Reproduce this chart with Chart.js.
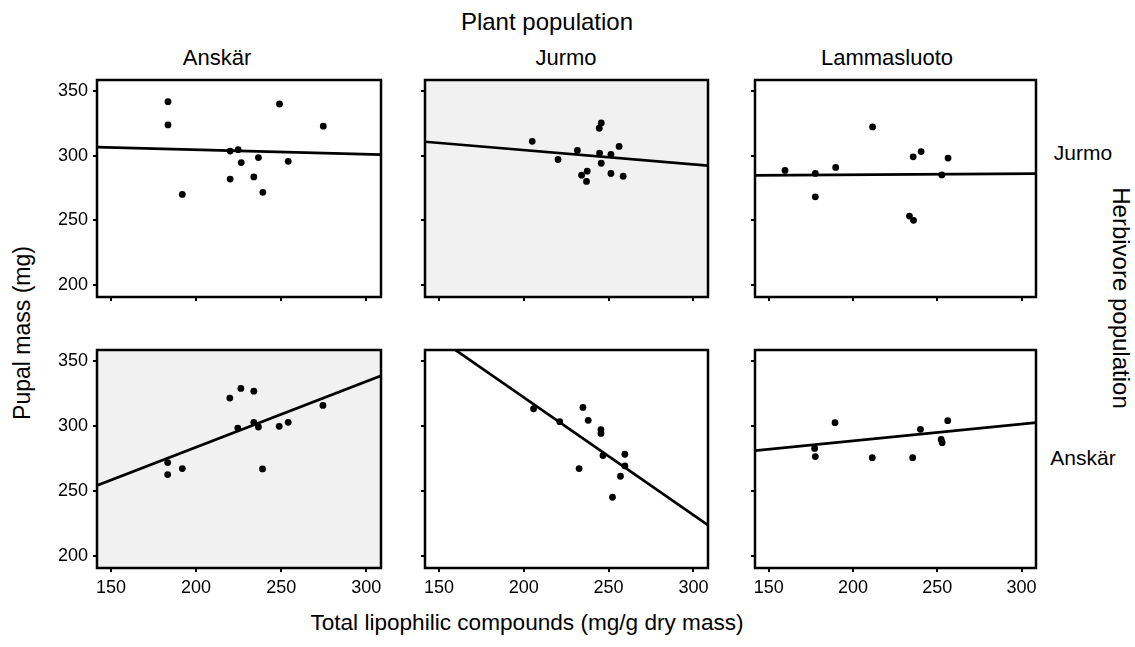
<!DOCTYPE html>
<html>
<head>
<meta charset="utf-8">
<script src="https://cdn.jsdelivr.net/npm/chart.js@4.4.1/dist/chart.umd.min.js"></script>
<style>
body{margin:0;background:#fff;}
#wrap{position:relative;width:1135px;height:647px;overflow:hidden;font-family:"Liberation Sans",Arial,sans-serif;color:#000;}
.lbl{position:absolute;white-space:nowrap;line-height:1;transform:translate(-50%,-50%);}
canvas{position:absolute;}
</style>
</head>
<body>
<div id="wrap">
  <div class="lbl" style="left:547px;top:22px;font-size:24px;">Plant population</div>
  <div class="lbl" style="left:217px;top:58px;font-size:22px;">Anskär</div>
  <div class="lbl" style="left:566px;top:58px;font-size:22px;">Jurmo</div>
  <div class="lbl" style="left:887px;top:58px;font-size:22px;">Lammasluoto</div>
  <div class="lbl" style="left:1083px;top:152px;font-size:21px;">Jurmo</div>
  <div class="lbl" style="left:1083px;top:457px;font-size:21px;">Anskär</div>
  <div class="lbl" style="left:1121px;top:298px;font-size:24px;transform:translate(-50%,-50%) rotate(90deg);">Herbivore population</div>
  <div class="lbl" style="left:22px;top:333px;font-size:23px;transform:translate(-50%,-50%) rotate(-90deg);">Pupal mass (mg)</div>
  <div class="lbl" style="left:527px;top:623px;font-size:22.6px;">Total lipophilic compounds (mg/g dry mass)</div>
</div>
<script>
// ======================================
// Data
// ======================================

const xTicks = [150, 200, 250, 300];
const yTicks = [200, 250, 300, 350];

const xMin = 141.8, xMax = 308.6;
const yMin = 191,   yMax = 358.3;

// herbivores from Jurmo (top row)
const jurmoOnAnskarX = [183.5, 183.5, 249, 274.7, 220, 224.7, 226.5, 236.6, 254.1, 220, 233.9, 239.2, 191.9];
const jurmoOnAnskarY = [341.6, 323.7, 339.8, 322.7, 303.5, 304.6, 294.6, 298.5, 295.6, 281.9, 283.6, 271.7, 270.1];

const jurmoOnJurmoX = [205, 220.2, 231.6, 244.7, 251.4, 256.2, 245.7, 244.5, 245.7, 237.4, 234.1, 237, 251.4, 258.6];
const jurmoOnJurmoY = [311, 297, 304, 302, 301, 307.1, 325.2, 321.1, 294.1, 288, 284.9, 280.1, 286.2, 284.1];

const jurmoOnLammasX = [159.6, 177.6, 189.7, 177.6, 211.6, 235.7, 240.4, 256.4, 252.7, 233.5, 235.9];
const jurmoOnLammasY = [288.6, 286.3, 290.9, 268.2, 322.1, 299.1, 303.1, 298.1, 285.1, 253.4, 250.1];

// herbivores from Anskär (bottom row)
const anskarOnAnskarX = [183.3, 183.3, 191.9, 219.8, 226.3, 233.9, 224.5, 233.9, 236.6, 248.8, 254.1, 274.5, 239];
const anskarOnAnskarY = [271.9, 262.7, 267.3, 321.4, 328.8, 326.7, 298.4, 302.8, 299.2, 299.7, 302.8, 315.8, 267];

const anskarOnJurmoX = [205.8, 221.2, 234.9, 238, 245.5, 245.5, 246.7, 259.6, 259.6, 257, 232.6, 252.3];
const anskarOnJurmoY = [313.2, 303.3, 314.2, 304.3, 297.2, 294.3, 277.3, 278.3, 269.3, 261.4, 267.3, 245.3];

const anskarOnLammasX = [177.2, 177.6, 189.3, 211.4, 235.4, 240, 252.3, 252.9, 256.2];
const anskarOnLammasY = [282.8, 276.5, 302.5, 275.7, 275.7, 297.4, 289.7, 287.2, 304.1];

// regression lines: value at xMin and at xMax, panel order row by row
const fitStartY = [306.6, 310.7, 284.8, 254.3, 374.5, 281.1];
const fitEndY   = [300.8, 292.3, 286.1, 338.5, 223.9, 302.5];

// ======================================
// Layout
// ======================================

const boxLeft  = [97, 425, 755];
const boxWidth = [285, 284, 282];
const boxTop   = [79, 349];
const boxHeight= [218, 219];

const AXIS_W = 50, AXIS_H = 30, PAD = 3;

const panels = [
    {row:0, col:0, x:jurmoOnAnskarX,  y:jurmoOnAnskarY,  shade:false},
    {row:0, col:1, x:jurmoOnJurmoX,   y:jurmoOnJurmoY,   shade:true },
    {row:0, col:2, x:jurmoOnLammasX,  y:jurmoOnLammasY,  shade:false},
    {row:1, col:0, x:anskarOnAnskarX, y:anskarOnAnskarY, shade:true },
    {row:1, col:1, x:anskarOnJurmoX,  y:anskarOnJurmoY,  shade:false},
    {row:1, col:2, x:anskarOnLammasX, y:anskarOnLammasY, shade:false}
];

// ======================================
// Panel frame plugin
// ======================================

const panelBox = {

    id: "panelBox",

    beforeDatasetsDraw(chart, args, opts){
        const a = chart.chartArea;
        const ctx = chart.ctx;
        ctx.save();
        ctx.fillStyle = opts.fill;
        ctx.fillRect(a.left, a.top, a.right - a.left, a.bottom - a.top);
        ctx.restore();
    },

    afterDraw(chart){
        const a = chart.chartArea;
        const ctx = chart.ctx;
        ctx.save();
        ctx.strokeStyle = "#000";
        ctx.lineWidth = 2.5;
        ctx.strokeRect(a.left, a.top, a.right - a.left, a.bottom - a.top);
        ctx.restore();
    }

};

// fixed axis size, no extra room for overhanging labels
function fixAxis(axis, size){
    if(axis.isHorizontal()) axis.height = size;
    else axis.width = size;
    axis.paddingTop = 0;
    axis.paddingBottom = 0;
    axis.paddingLeft = 0;
    axis.paddingRight = 0;
}

// ======================================
// Build charts
// ======================================

const wrap = document.getElementById("wrap");

panels.forEach((p, i) => {

    const canvas = document.createElement("canvas");
    const w = boxWidth[p.col] + AXIS_W + PAD;
    const h = boxHeight[p.row] + AXIS_H + PAD;
    canvas.width = w;
    canvas.height = h;
    canvas.style.width = w + "px";
    canvas.style.height = h + "px";
    canvas.style.left = (boxLeft[p.col] - AXIS_W) + "px";
    canvas.style.top = (boxTop[p.row] - PAD) + "px";
    wrap.appendChild(canvas);

    const pts = p.x.map((v, k) => ({x: v, y: p.y[k]}));

    const showY = p.col === 0;
    const showX = p.row === 1;

    new Chart(canvas, {

        type: "scatter",

        data: {
            datasets: [
                {
                    data: pts,
                    pointRadius: 3.4,
                    pointBackgroundColor: "#000",
                    pointBorderWidth: 0
                },
                {
                    data: [{x: xMin, y: fitStartY[i]}, {x: xMax, y: fitEndY[i]}],
                    showLine: true,
                    borderColor: "#000",
                    borderWidth: 2.7,
                    pointRadius: 0
                }
            ]
        },

        options: {

            responsive: false,
            animation: false,
            events: [],

            layout: {
                padding: {top: PAD, right: PAD, left: 0, bottom: 0}
            },

            plugins: {
                legend: {display: false},
                tooltip: {enabled: false},
                panelBox: {fill: p.shade ? "#f0f1f0" : "#ffffff"}
            },

            scales: {

                x: {
                    type: "linear",
                    min: xMin,
                    max: xMax,
                    afterBuildTicks: axis => { axis.ticks = xTicks.map(v => ({value: v})); },
                    afterFit: axis => fixAxis(axis, AXIS_H),
                    border: {display: false},
                    grid: {
                        drawOnChartArea: false,
                        drawTicks: true,
                        tickLength: 4,
                        color: "#000",
                        lineWidth: 2
                    },
                    ticks: {
                        padding: 5,
                        color: "#000",
                        maxRotation: 0,
                        font: {family: "Liberation Sans", size: 18},
                        callback: v => showX ? String(v) : ""
                    }
                },

                y: {
                    type: "linear",
                    min: yMin,
                    max: yMax,
                    afterBuildTicks: axis => { axis.ticks = yTicks.map(v => ({value: v})); },
                    afterFit: axis => fixAxis(axis, AXIS_W),
                    border: {display: false},
                    grid: {
                        drawOnChartArea: false,
                        drawTicks: true,
                        tickLength: 4,
                        color: "#000",
                        lineWidth: 2
                    },
                    ticks: {
                        padding: 5,
                        color: "#000",
                        font: {family: "Liberation Sans", size: 18},
                        callback: v => showY ? String(v) : ""
                    }
                }

            }

        },

        plugins: [panelBox]

    });

});
</script>
</body>
</html>
